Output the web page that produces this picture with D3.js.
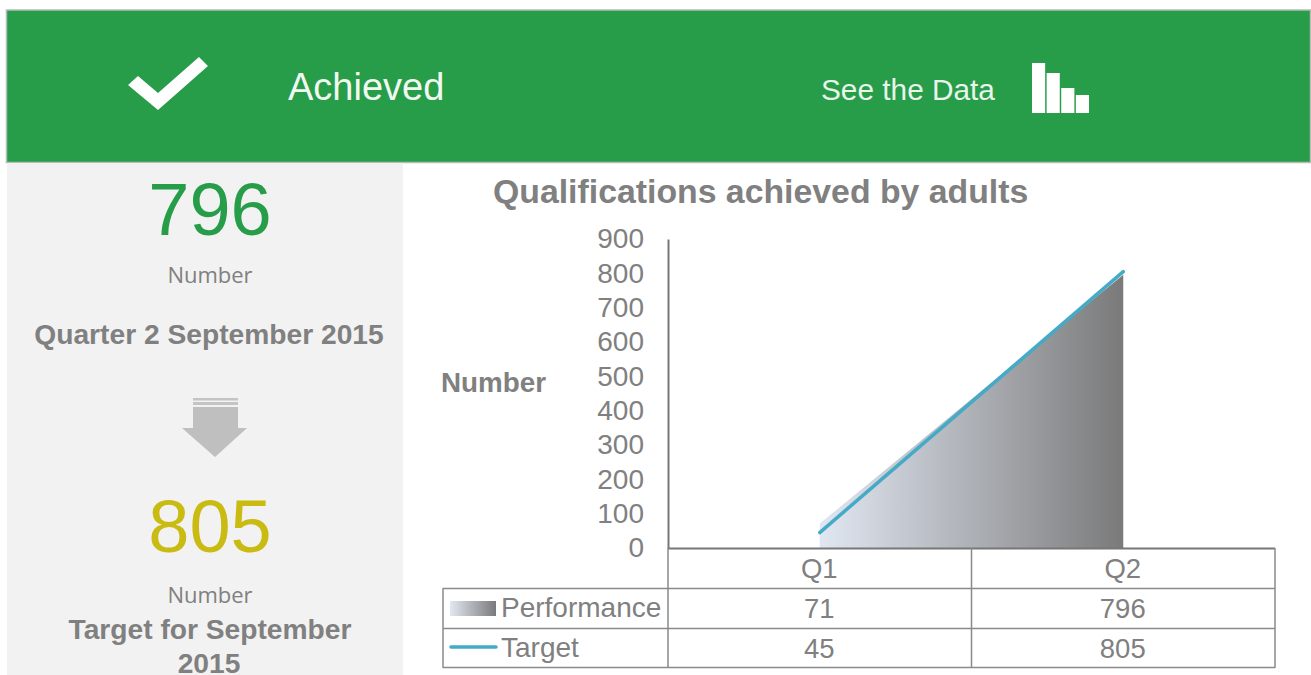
<!DOCTYPE html>
<html>
<head>
<meta charset="utf-8">
<script src="https://cdn.jsdelivr.net/npm/d3@7"></script>
<style>
  html, body { margin: 0; padding: 0; background: #fff; }
  svg { display: block; font-family: "Liberation Sans", Arial, sans-serif; }
</style>
</head>
<body>
<svg id="chart" width="1311" height="675"></svg>
<script>
var categories = ['Q1', 'Q2'];
var performance = [71, 796];
var target = [45, 805];
var yTicks = [0, 100, 200, 300, 400, 500, 600, 700, 800, 900];
var seriesNames = ['Performance', 'Target'];

var grey = '#808080',
    green = '#279c49',
    blue = '#45aac6';

var svg = d3.select('#chart');
var defs = svg.append('defs');

function addGradient(id) {
  var g = defs.append('linearGradient').attr('id', id);
  g.append('stop').attr('offset', '0%').attr('stop-color', '#e1e7f2');
  g.append('stop').attr('offset', '100%').attr('stop-color', '#7a7a7a');
}
addGradient('perfFill');
addGradient('legendFill');

function label(x, y, txt, size, opts) {
  opts = opts || {};
  return svg.append('text')
    .attr('x', x).attr('y', y)
    .attr('text-anchor', opts.anchor || 'middle')
    .attr('font-size', size)
    .attr('font-weight', opts.weight || 'normal')
    .attr('font-family', opts.family || null)
    .attr('fill', opts.fill || grey)
    .text(txt);
}

// header band
svg.append('rect').attr('x', 6.5).attr('y', 10).attr('width', 1304).attr('height', 152.5)
  .attr('fill', green).attr('stroke', '#b4bdb6').attr('stroke-width', 1.5);
svg.append('polygon')
  .attr('points', '128,85 138,76 158,93 199,57 208,66 158,110')
  .attr('fill', '#fff');
label(288, 100, 'Achieved', 38, {anchor: 'start', fill: '#f1f8f2'});
label(821, 100, 'See the Data', 29.8, {anchor: 'start', fill: '#e8f5ea'});

var iconBars = [50, 40, 25, 18];
var iconX = d3.scaleBand().domain(d3.range(4)).range([1032, 1089]).paddingInner(0.1);
svg.selectAll('.icon').data(iconBars).enter().append('rect')
  .attr('class', 'icon')
  .attr('x', function(d, i) { return iconX(i); })
  .attr('y', function(d) { return 113 - d; })
  .attr('width', iconX.bandwidth())
  .attr('height', function(d) { return d; })
  .attr('fill', '#fff');

// left panel
svg.append('rect').attr('x', 7).attr('y', 163).attr('width', 396).attr('height', 512).attr('fill', '#f2f2f2');
label(210, 235, performance[1], 74, {fill: green});
label(210, 283, 'Number', 22, {family: '"Open Sans", sans-serif'});
label(209, 344, 'Quarter 2 September 2015', 28.2, {weight: 'bold'});

svg.append('rect').attr('x', 193).attr('y', 398).attr('width', 45).attr('height', 2.5).attr('fill', '#c4c4c4');
svg.append('rect').attr('x', 193).attr('y', 402).attr('width', 45).attr('height', 3).attr('fill', '#c4c4c4');
svg.append('polygon')
  .attr('points', '193,407 238,407 238,428 247,428 215,457 182,428 193,428')
  .attr('fill', '#bfbfbf');

label(210, 552, target[1], 74, {fill: '#c9bb12'});
label(210, 603, 'Number', 22, {family: '"Open Sans", sans-serif'});
label(210, 639, 'Target for September', 28.2, {weight: 'bold'});
label(209, 673, '2015', 28.2, {weight: 'bold'});

// chart
label(493, 203, 'Qualifications achieved by adults', 33.8, {anchor: 'start', weight: 'bold'});
label(441, 392, 'Number', 27.8, {anchor: 'start', weight: 'bold'});

var x = d3.scaleBand().domain(categories).range([668, 1275]);
var y = d3.scaleLinear().domain([0, 900]).range([548, 239]);
var mid = function(c) { return x(c) + x.bandwidth() / 2; };

var perfRows = categories.map(function(c, i) { return {c: c, v: performance[i]}; });
var targetRows = categories.map(function(c, i) { return {c: c, v: target[i]}; });

svg.append('path').datum(perfRows)
  .attr('fill', 'url(#perfFill)')
  .attr('d', d3.area()
    .x(function(d) { return mid(d.c); })
    .y0(y(0))
    .y1(function(d) { return y(d.v); }));

svg.append('path').datum(targetRows)
  .attr('fill', 'none')
  .attr('stroke', blue)
  .attr('stroke-width', 3.5)
  .attr('stroke-linecap', 'round')
  .attr('d', d3.line()
    .x(function(d) { return mid(d.c); })
    .y(function(d) { return y(d.v); }));

var yAxis = svg.append('g')
  .attr('transform', 'translate(668,0)')
  .call(d3.axisLeft(y).tickValues(yTicks).tickSize(0).tickPadding(24));
yAxis.select('.domain').attr('stroke', '#777').attr('stroke-width', 2);
yAxis.selectAll('text').attr('font-size', 28).attr('fill', grey).attr('dy', '0.32em')
  .attr('font-family', '"Liberation Sans", Arial, sans-serif');

// data table under the axis
var rowY = [548.5, 588.5, 628.5, 667.5];
var tableLine = '#8a8a8a';
rowY.forEach(function(ry, i) {
  svg.append('line')
    .attr('x1', i === 0 ? 668 : 443).attr('x2', 1275)
    .attr('y1', ry).attr('y2', ry)
    .attr('stroke', i === 0 ? '#777' : tableLine).attr('stroke-width', i === 0 ? 2 : 1.5);
});
[443, 668, 971.5, 1275].forEach(function(lx, i) {
  svg.append('line')
    .attr('x1', lx).attr('x2', lx)
    .attr('y1', i === 0 ? 588 : 548).attr('y2', 668)
    .attr('stroke', tableLine).attr('stroke-width', 1.5);
});

categories.forEach(function(c, i) {
  label(mid(c) - 0.5, 578, c, 27.5);
  label(mid(c) - 0.5, 618, performance[i], 27.5);
  label(mid(c) - 0.5, 658, target[i], 27.5);
});

svg.append('rect').attr('x', 450).attr('y', 601).attr('width', 46).attr('height', 15).attr('fill', 'url(#legendFill)');
svg.append('line').attr('x1', 451).attr('x2', 496).attr('y1', 647).attr('y2', 647)
  .attr('stroke', blue).attr('stroke-width', 3.5).attr('stroke-linecap', 'round');
label(501, 617, seriesNames[0], 28, {anchor: 'start'});
label(501, 657, seriesNames[1], 28, {anchor: 'start'});
</script>
</body>
</html>
